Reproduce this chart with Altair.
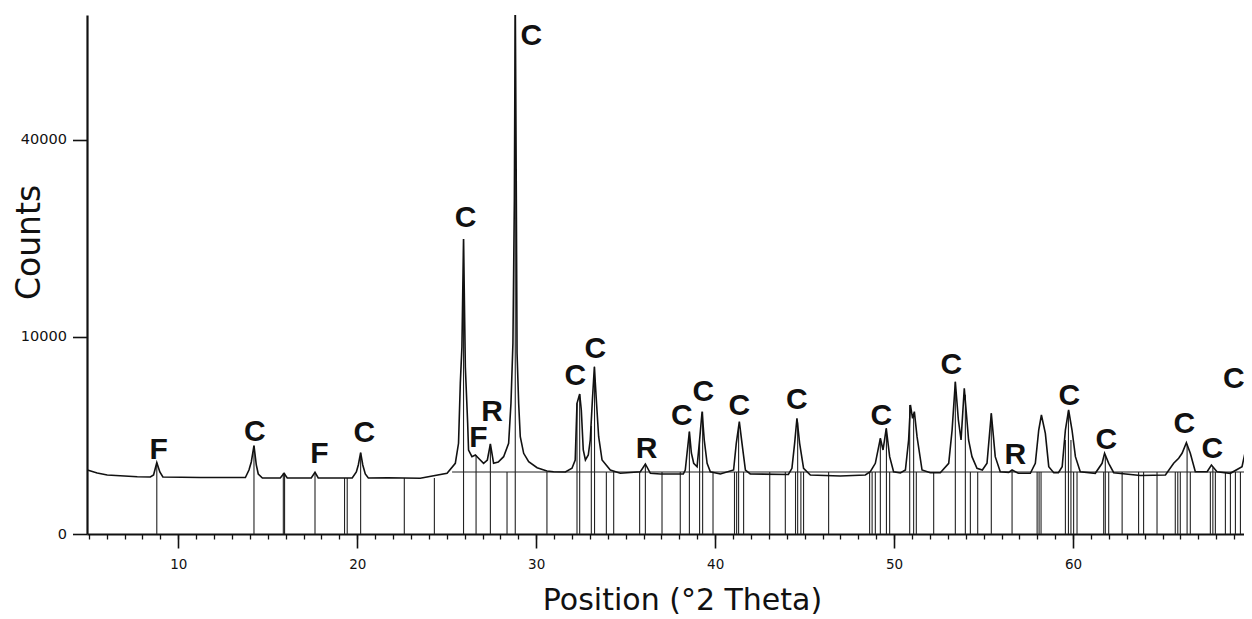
import altair as alt
import pandas as pd

# ---- measured profile (°2θ, counts) ----
profile_2theta = [4.92, 5.47, 6.03, 7.71, 8.44, 8.62, 8.80, 8.97, 9.14, 11.23, 13.75, 13.95, 14.08, 14.23, 14.36,
                  14.47, 14.70, 15.70, 15.91, 16.09, 17.43, 17.64, 17.82, 19.72, 19.95, 20.06, 20.19, 20.31, 20.45,
                  20.62, 21.68, 23.52, 25.02, 25.48, 25.66, 25.76, 25.85, 25.94, 26.04, 26.17, 26.22, 26.41, 26.60,
                  26.82, 27.06, 27.27, 27.44, 27.62, 27.88, 28.18, 28.46, 28.59, 28.70, 28.78, 28.83, 28.89, 28.93,
                  29.02, 29.11, 29.30, 29.58, 30.05, 30.60, 30.97, 31.63, 32.00, 32.18, 32.28, 32.43, 32.52, 32.63,
                  32.75, 32.91, 33.02, 33.14, 33.25, 33.36, 33.49, 33.68, 34.14, 34.70, 35.82, 36.10, 36.38, 36.94,
                  38.22, 38.33, 38.43, 38.56, 38.67, 38.80, 38.99, 39.13, 39.27, 39.39, 39.55, 39.73, 40.29, 41.03,
                  41.18, 41.35, 41.50, 41.69, 41.96, 44.09, 44.29, 44.44, 44.57, 44.72, 44.94, 45.32, 46.99, 48.39,
                  48.67, 48.95, 49.23, 49.38, 49.56, 49.75, 49.97, 50.35, 50.63, 50.81, 50.91, 51.03, 51.13, 51.28,
                  51.56, 52.02, 52.58, 53.05, 53.24, 53.42, 53.59, 53.74, 53.92, 54.16, 54.35, 54.63, 54.93, 55.19,
                  55.43, 55.65, 55.93, 56.40, 56.59, 56.94, 57.61, 57.89, 58.08, 58.23, 58.45, 58.64, 58.92, 59.18,
                  59.39, 59.57, 59.75, 59.94, 60.13, 60.40, 61.24, 61.62, 61.76, 61.99, 62.27, 63.76, 65.16, 65.62,
                  65.90, 66.09, 66.33, 66.55, 66.83, 67.49, 67.73, 68.04, 68.79, 69.44, 69.68, 69.87, 70.02]
profile_counts = [1055, 959, 897, 846, 837, 897, 1310, 991, 837, 823, 823, 1055, 1336, 2009, 1227,
                  928, 808, 808, 949, 808, 808, 981, 808, 808, 991, 1227, 1703, 1227, 928,
                  808, 817, 799, 949, 1288, 2120, 5875, 9040, 22425, 7212, 3157, 1818, 1540, 1608,
                  1449, 1288, 1411, 2087, 1288, 1336, 1540, 2120, 4402, 9371, 28744, 75000, 28744, 8414,
                  4402, 2439, 1678, 1347, 1133, 1023, 1000, 991, 1112, 1411, 4402, 5051, 3962, 1818,
                  1411, 1608, 2277, 4627, 7212, 4627, 2439, 1411, 1055, 949, 1000, 1263, 949, 928,
                  928, 1055, 1691, 2697, 1691, 1288, 1167, 2277, 3854, 2277, 1288, 1000, 928, 1055,
                  2120, 3250, 2120, 1055, 928, 912, 1112, 2120, 3449, 2120, 1112, 897, 867, 897,
                  1000, 1288, 2360, 1818, 2879, 1540, 1000, 959, 1055, 2277, 4288, 3449, 3854, 2439,
                  1055, 968, 968, 1288, 2787, 5977, 3349, 2277, 5470, 2277, 1540, 1112, 1055, 1288,
                  3754, 1540, 1000, 980, 1055, 949, 949, 1288, 2787, 3649, 2613, 1167, 968, 968,
                  1167, 2787, 3962, 2787, 1540, 1000, 949, 1288, 1678, 1288, 968, 882, 897, 1288,
                  1477, 1678, 2148, 1678, 1000, 1000, 1227, 1000, 949, 1167, 1964, 4402, 6930]

# ---- reference pattern sticks (°2θ, top counts) ----
stick_2theta = [8.80, 14.23, 15.87, 15.94, 17.64, 19.29, 19.44, 20.19, 22.63, 24.31, 25.94, 26.64, 27.44, 28.37,
                28.83, 30.60, 32.28, 32.43, 33.08, 33.26, 33.92, 34.33, 35.78, 36.10, 37.03, 38.05, 38.56, 39.13,
                39.30, 39.88, 41.08, 41.20, 41.31, 41.59, 43.05, 43.92, 44.49, 44.61, 44.79, 44.94, 46.34, 48.63,
                48.77, 48.95, 49.23, 49.57, 49.75, 50.87, 51.09, 51.24, 52.21, 53.42, 53.98, 54.26, 54.67, 55.43,
                56.59, 57.99, 58.10, 58.21, 59.57, 59.74, 59.88, 60.03, 60.22, 61.71, 61.80, 61.99, 62.74, 63.66,
                63.94, 64.69, 65.71, 65.85, 65.99, 66.37, 66.55, 67.67, 67.81, 67.95, 68.51, 68.79, 69.07, 69.35]
stick_top = [1310, 2009, 959, 959, 981, 808, 808, 1703, 808, 808, 22425, 1608, 2087, 991,
             75000, 991, 4402, 5051, 3000, 7212, 991, 991, 991, 1263, 991, 991, 2697, 2277,
             3854, 991, 991, 991, 3000, 991, 991, 991, 991, 3200, 991, 991, 991, 991,
             991, 991, 2360, 2879, 991, 4288, 3600, 991, 991, 5977, 5000, 991, 991, 3754,
             1055, 991, 991, 991, 2277, 3900, 2277, 991, 991, 991, 1600, 991, 991, 991,
             991, 991, 991, 991, 991, 2050, 991, 991, 1150, 991, 991, 991, 991, 991]

# ---- phase labels ----
label_text = ["F", "C", "F", "C", "C", "F", "R", "C", "C", "C", "R", "C", "C", "C", "C", "C", "C", "R", "C",
              "C", "C", "C", "C"]
label_2theta = [8.91, 14.28, 17.88, 20.39, 26.06, 26.77, 27.53, 29.73, 32.19, 33.30, 36.17, 38.14, 39.34, 41.35,
                44.57, 49.29, 53.20, 56.77, 59.79, 61.86, 66.22, 67.78, 68.98]
label_counts = [1906, 2787, 1712, 2734, 26057, 2475, 3962, 64420, 6597, 9010, 1950, 3710, 5343, 4355,
                4766, 3710, 7535, 1691, 5051, 2399, 3204, 1964, 6376]

background_level = [991]
background_from = [25.3]
background_to = [70.0]

major_ticks = [10, 20, 30, 40, 50, 60]
minor_ticks = list(range(5, 70))
y_ticks = [0, 10000, 40000]

profile = pd.DataFrame({"pos": profile_2theta, "counts": profile_counts})
sticks = pd.DataFrame({"pos": stick_2theta, "counts": stick_top, "base": [0] * len(stick_top)})
labels = pd.DataFrame({"pos": label_2theta, "counts": label_counts, "txt": label_text})
bg = pd.DataFrame({"pos": background_from, "pos2": background_to, "counts": background_level})

xscale = alt.Scale(domain=[4.9, 69.55], nice=False, zero=False)
yscale = alt.Scale(type="sqrt", domain=[0, 69400], nice=False, zero=True)

major_axis = alt.Axis(values=major_ticks, orient="bottom", title="Position (°2 Theta)", grid=False,
                      tickSize=14, tickWidth=1.6, tickColor="#111", domainColor="#111", domainWidth=2.2,
                      labelFont="DejaVu Sans", labelFontSize=13.5, labelColor="#111", labelPadding=9,
                      labelFlush=False, format="d",
                      titleFont="DejaVu Sans", titleFontSize=30, titleFontWeight="normal", titleColor="#111",
                      titleAlign="center", titleBaseline="alphabetic", titleX=595, titleY=75)
minor_axis = alt.Axis(values=minor_ticks, orient="bottom", title=None, grid=False, labels=False, domain=False,
                      tickSize=5, tickWidth=1.3, tickColor="#111")

yaxis = alt.Axis(values=y_ticks, title="Counts", grid=False, format="d",
                 tickSize=14.5, tickWidth=1.6, tickColor="#111", domainColor="#111", domainWidth=2.2,
                 labelFont="DejaVu Sans", labelFontSize=14.5, labelColor="#111", labelPadding=6,
                 titleFont="DejaVu Sans", titleFontSize=33, titleFontWeight="normal", titleColor="#111",
                 titleAngle=270, titleAlign="center", titleBaseline="middle", titleX=-58, titleY=227)

Y = alt.Y("counts:Q", scale=yscale, axis=yaxis)

stick_layer = alt.Chart(sticks).mark_rule(color="#222", strokeWidth=1.1, clip=True).encode(
    x=alt.X("pos:Q", scale=xscale, axis=major_axis), y=Y, y2="base:Q")

bg_layer = alt.Chart(bg).mark_rule(color="#222", strokeWidth=1.1, clip=True).encode(
    x=alt.X("pos:Q", scale=xscale, axis=minor_axis), x2="pos2:Q", y=Y)

profile_layer = alt.Chart(profile).mark_line(color="#111", strokeWidth=1.6, clip=True,
                                             strokeJoin="miter").encode(
    x=alt.X("pos:Q", scale=xscale, axis=None), y=Y)

label_layer = alt.Chart(labels).mark_text(font="Liberation Sans", fontWeight="bold", fontSize=30,
                                          color="#111", align="center", baseline="middle", dy=2).encode(
    x=alt.X("pos:Q", scale=xscale, axis=None), y=Y, text="txt:N")

chart = alt.layer(stick_layer, bg_layer, profile_layer, label_layer).resolve_axis(x="independent").properties(
    width=1157, height=519,
    padding={"left": 79, "top": 7, "right": 0, "bottom": 85},
    autosize=alt.AutoSizeParams(type="none"),
    background="white",
).configure_view(stroke=None)

chart.save("out.html", embed_options={"renderer": "svg", "actions": False})
